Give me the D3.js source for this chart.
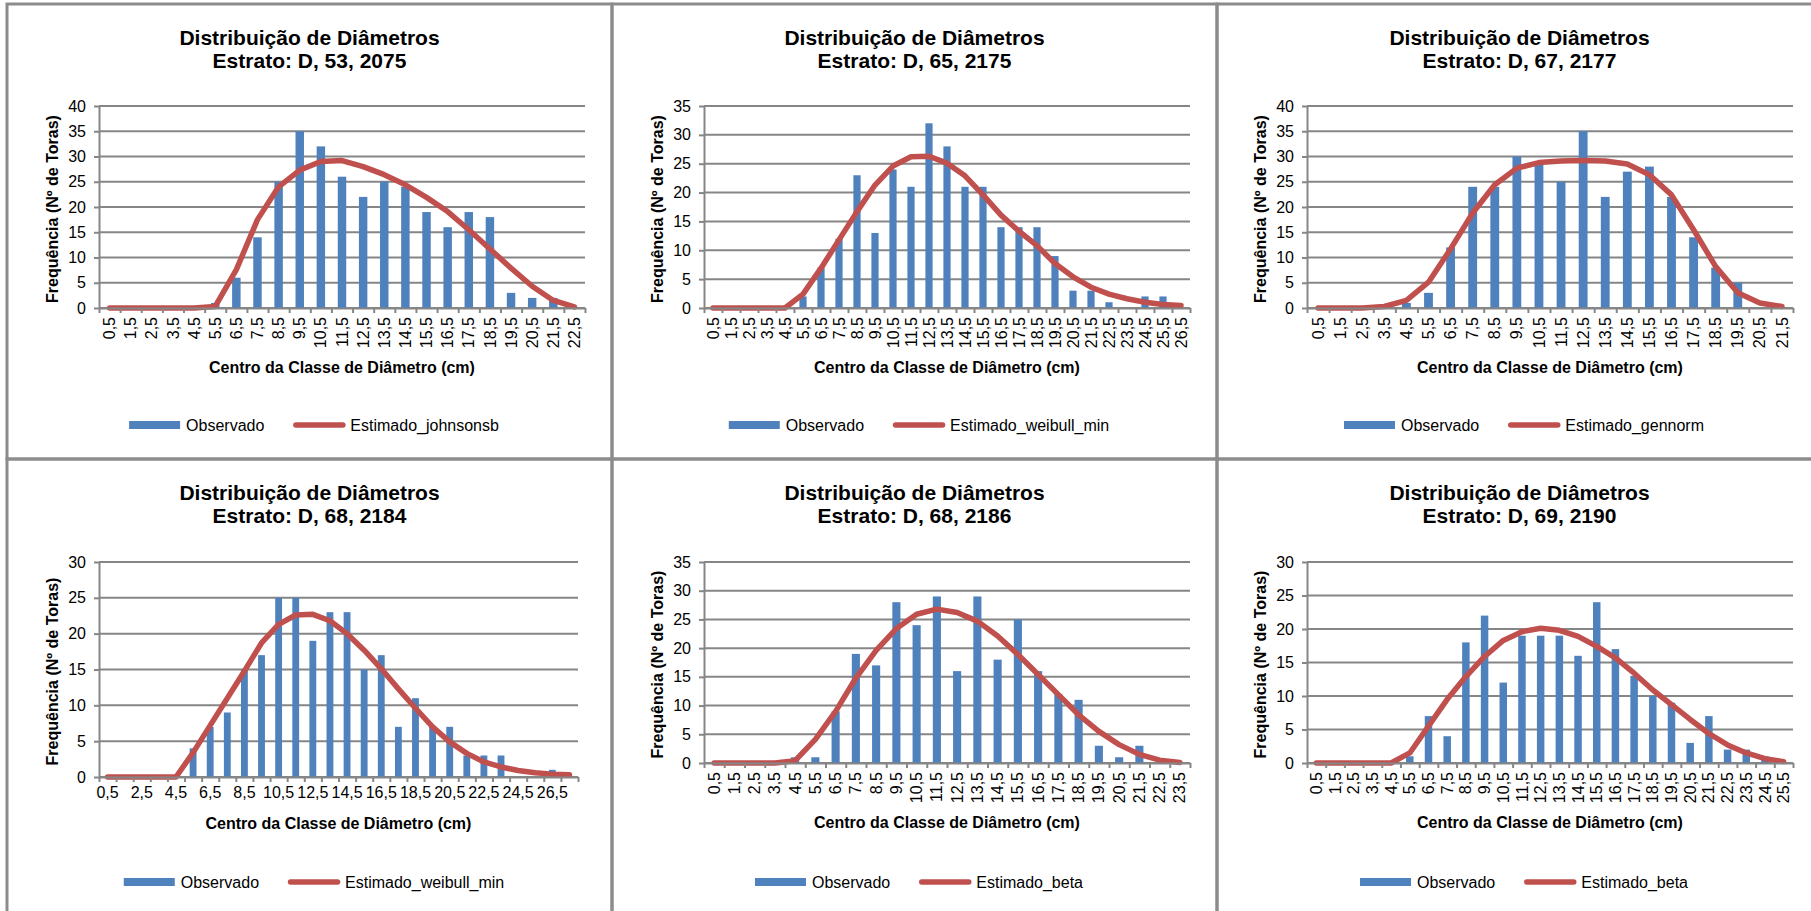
<!DOCTYPE html>
<html>
<head>
<meta charset="utf-8">
<script src="https://cdn.jsdelivr.net/npm/d3@7"></script>
<style>
  body { margin: 0; background: #fff; }
  svg { display: block; font-family: "Liberation Sans", Arial, Helvetica, sans-serif; }
</style>
</head>
<body>
<svg id="chart" width="1811" height="911"></svg>
<script>
// Diameter class centres (cm), shared by all strata
const classCenters = ["0,5","1,5","2,5","3,5","4,5","5,5","6,5","7,5","8,5","9,5",
  "10,5","11,5","12,5","13,5","14,5","15,5","16,5","17,5","18,5","19,5",
  "20,5","21,5","22,5","23,5","24,5","25,5","26,5","27,5"];

// Estrato D, 53, 2075
const obs_D53_2075 = [0,0,0,0,0,1,6,14,25,35,32,26,22,25,24,19,16,19,18,3,2,2,0];
const est_D53_2075 = [0,0,0,0,0,0.3,7.6,17.5,24.0,27.3,29.0,29.2,28.0,26.4,24.4,21.9,19.1,15.5,11.7,7.9,4.3,1.5,0.2];

// Estrato D, 65, 2175
const obs_D65_2175 = [0,0,0,0,0,2,7,12,23,13,24,21,32,28,21,21,14,14,14,9,3,3,1,0,2,2,0];
const est_D65_2175 = [0,0,0,0,0,2.4,6.9,11.8,16.7,21.3,24.6,26.2,26.3,25.1,22.9,19.6,16.1,13.3,10.8,7.7,5.4,3.6,2.4,1.6,1.0,0.6,0.45];

// Estrato D, 67, 2177
const obs_D67_2177 = [0,0,0,0,1,3,12,24,24,30,29,25,35,22,27,28,22,14,8,5,0,0];
const est_D67_2177 = [0,0,0,0.3,1.5,5.1,11.7,18.8,24.4,27.7,28.8,29.1,29.2,29.1,28.5,26.4,22.4,15.5,8.2,3.0,1.0,0.3];

// Estrato D, 68, 2184
const obs_D68_2184 = [0,0,0,0,0,4,7,9,15,17,25,25,19,23,23,15,17,7,11,7,7,3,3,3,0,0,1,0];
const est_D68_2184 = [0,0,0,0,0,3.4,7.2,11.0,14.8,18.7,21.3,22.6,22.7,21.8,20.0,17.7,15.1,12.3,9.6,7.0,4.9,3.3,2.1,1.4,0.9,0.6,0.4,0.3];

// Estrato D, 68, 2186
const obs_D68_2186 = [0,0,0,0,1,1,9,19,17,28,24,29,16,29,18,25,16,12,11,3,1,3,0,0];
const est_D68_2186 = [0,0,0,0,0.4,4.1,9.0,14.8,19.6,23.4,25.9,26.8,26.2,24.7,22.1,18.9,15.4,11.9,8.4,5.5,3.2,1.5,0.5,0.1];

// Estrato D, 69, 2190
const obs_D69_2190 = [0,0,0,0,0,1,7,4,18,22,12,19,19,19,16,24,17,13,10,9,3,7,2,2,1,0];
const est_D69_2190 = [0,0,0,0,0,1.5,5.5,9.5,12.9,15.9,18.3,19.6,20.1,19.8,18.9,17.4,15.7,13.4,10.9,8.7,6.5,4.4,2.7,1.5,0.65,0.2];

const strata = ["D, 53, 2075","D, 65, 2175","D, 67, 2177","D, 68, 2184","D, 68, 2186","D, 69, 2190"];
const models = ["johnsonsb","weibull_min","gennorm","weibull_min","beta","beta"];
const observed = [obs_D53_2075, obs_D65_2175, obs_D67_2177, obs_D68_2184, obs_D68_2186, obs_D69_2190];
const estimated = [est_D53_2075, est_D65_2175, est_D67_2177, est_D68_2184, est_D68_2186, est_D69_2190];
const yMaxima = [40, 35, 40, 30, 35, 30];
const labelSteps = [1, 1, 1, 2, 1, 1];

const BAR = "#4F81BD", LINE = "#C0504D", GRID = "#868686", BORDER = "#8c8c8c";
const TICK_FONT = 16;
const panelX = [7, 612, 1217], panelY = [4, 459];
const PW = 605, PH = 455;

const svg = d3.select("#chart");
svg.append("rect").attr("width", 1811).attr("height", 911).attr("fill", "#fff");

strata.forEach((stratum, k) => {
  const col = k % 3, row = Math.floor(k / 3);
  const obs = observed[k], est = estimated[k], yMax = yMaxima[k], step = labelSteps[k];
  const g = svg.append("g").attr("transform", `translate(${panelX[col]},${panelY[row]})`);

  // panel frame
  g.append("rect").attr("x", 0).attr("y", 0).attr("width", PW).attr("height", PH)
    .attr("fill", "none").attr("stroke", BORDER).attr("stroke-width", 3);

  const dx = col === 2 ? -2 : 0;
  const rotated = step === 1;
  const left = 92 + dx, right = (rotated ? 578 : 571) + dx;
  const top = row === 0 ? 102 : 103, bottom = rotated ? 304 : 318;

  const cats = classCenters.slice(0, obs.length);
  const x = d3.scaleBand().domain(cats).range([left, right]).paddingInner(0.6).paddingOuter(0.3);
  const y = d3.scaleLinear().domain([0, yMax]).range([bottom, top]);
  const yTicks = d3.range(0, yMax + 1, 5);

  // horizontal gridlines
  g.append("g").selectAll("line").data(yTicks).join("line")
    .attr("x1", left).attr("x2", right)
    .attr("y1", d => y(d)).attr("y2", d => y(d))
    .attr("stroke", GRID).attr("stroke-width", 2);

  // observed frequencies
  g.append("g").selectAll("rect").data(obs).join("rect")
    .attr("x", (d, i) => x(cats[i])).attr("width", x.bandwidth())
    .attr("y", d => y(d)).attr("height", d => y(0) - y(d))
    .attr("fill", BAR);

  // fitted distribution
  const line = d3.line().x((d, i) => x(cats[i]) + x.bandwidth() / 2).y(d => y(d));
  g.append("path").datum(est).attr("d", line)
    .attr("fill", "none").attr("stroke", LINE).attr("stroke-width", 5.5)
    .attr("stroke-linejoin", "round").attr("stroke-linecap", "round");

  // y axis
  const ya = g.append("g").attr("transform", `translate(${left},0)`)
    .call(d3.axisLeft(y).tickValues(yTicks).tickSize(5).tickSizeOuter(0).tickPadding(8).tickFormat(d3.format("d")));
  ya.select(".domain").attr("stroke", GRID).attr("stroke-width", 2);
  ya.selectAll(".tick line").attr("stroke", GRID).attr("stroke-width", 2);
  ya.selectAll("text").attr("font-size", TICK_FONT).attr("fill", "#000")
    .attr("font-family", '"Liberation Sans", Arial, sans-serif');

  // x axis: tick marks on class boundaries
  const xb = d3.scaleLinear().domain([0, cats.length]).range([left, right]);
  const xt = g.append("g").attr("transform", `translate(0,${bottom})`)
    .call(d3.axisBottom(xb).tickValues(d3.range(cats.length + 1)).tickSize(5).tickSizeOuter(0).tickFormat(""));
  xt.select(".domain").attr("stroke", GRID).attr("stroke-width", 2);
  xt.selectAll(".tick line").attr("stroke", GRID).attr("stroke-width", 2);

  // x axis: class labels
  const xl = g.append("g").attr("transform", `translate(0,${bottom})`)
    .call(d3.axisBottom(x).tickSize(0).tickFormat((d, i) => i % step === 0 ? d : ""));
  xl.select(".domain").remove();
  const xText = xl.selectAll("text").attr("font-size", TICK_FONT).attr("fill", "#000")
    .attr("font-family", '"Liberation Sans", Arial, sans-serif');
  if (rotated) {
    xText.attr("transform", "rotate(-90)").attr("text-anchor", "end")
      .attr("x", -9).attr("y", 0).attr("dy", "0.35em");
  } else {
    xText.attr("y", 10).attr("dy", "0.71em");
  }

  // titles
  const title = g.append("text").attr("text-anchor", "middle")
    .attr("font-size", 21).attr("font-weight", "bold").attr("fill", "#000");
  title.append("tspan").attr("x", PW / 2).attr("y", 40.5).text("Distribuição de Diâmetros");
  title.append("tspan").attr("x", PW / 2).attr("y", 63.5).text("Estrato: " + stratum);

  g.append("text")
    .attr("transform", `translate(${45.5 + dx},${(top + bottom) / 2 + 2}) rotate(-90)`)
    .attr("text-anchor", "middle").attr("dy", "0.35em")
    .attr("font-size", 16).attr("font-weight", "bold").attr("fill", "#000")
    .text("Frequência (Nº de Toras)");

  g.append("text")
    .attr("x", (left + right) / 2).attr("y", rotated ? 368.6 : 369.6)
    .attr("text-anchor", "middle")
    .attr("font-size", 16).attr("font-weight", "bold").attr("fill", "#000")
    .text("Centro da Classe de Diâmetro (cm)");

  // legend
  const lg = g.append("g");
  lg.append("rect").attr("x", 0).attr("y", -4).attr("width", 51).attr("height", 8).attr("fill", BAR);
  const t1 = lg.append("text").attr("x", 57).attr("dy", "0.35em")
    .attr("font-size", 16).attr("fill", "#000").text("Observado");
  const lx = 57 + t1.node().getComputedTextLength() + 29;
  lg.append("line").attr("x1", lx + 2.5).attr("x2", lx + 49.5).attr("y1", 0).attr("y2", 0)
    .attr("stroke", LINE).attr("stroke-width", 5.5).attr("stroke-linecap", "round");
  const t2 = lg.append("text").attr("x", lx + 57).attr("dy", "0.35em")
    .attr("font-size", 16).attr("fill", "#000").text("Estimado_" + models[k]);
  const total = lx + 57 + t2.node().getComputedTextLength();
  lg.attr("transform", `translate(${307 - total / 2},${row === 0 ? 421 : 423})`);
});
</script>
</body>
</html>
